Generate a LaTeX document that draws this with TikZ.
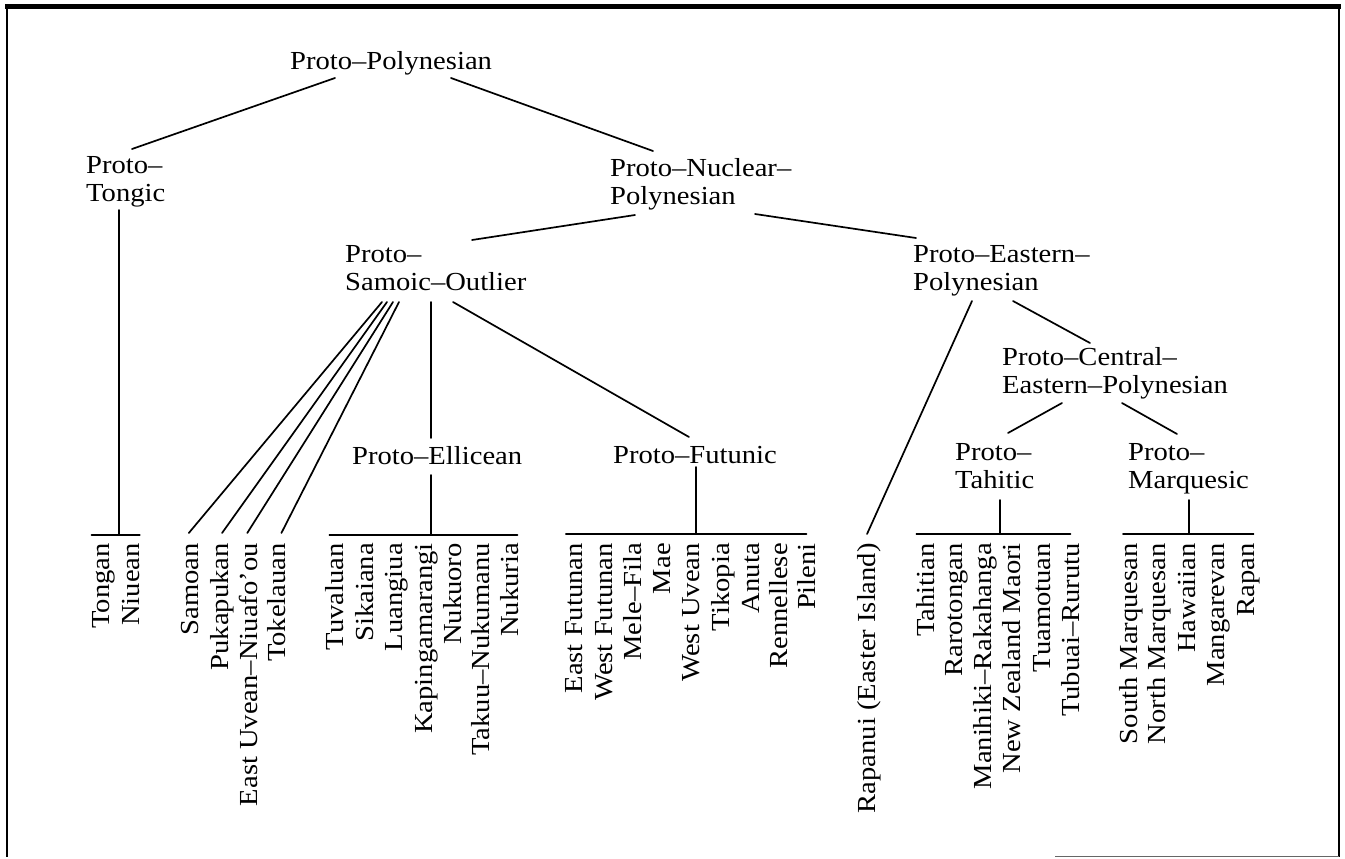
\documentclass[tikz,border=0pt]{standalone}
\usepackage{fontspec}
\setmainfont[FakeStretch=1.1]{Liberation Serif}
\usetikzlibrary{calc}
\begin{document}
\begin{tikzpicture}[x=1pt,y=-1pt,
  lab/.style={font=\fontsize{26}{28.5}\selectfont, inner sep=0pt, align=left, anchor=north west},
  leaf/.style={font=\fontsize{26}{28.5}\selectfont, inner sep=0pt, rotate=90, anchor=mid east},
  edge/.style={line width=1.7pt, line cap=round},
  frame/.style={line width=1.5pt}]
\useasboundingbox (0,0) rectangle (1345,859);
% frame
\draw[line width=5pt] (5,6.5) -- (1341,6.5);
\draw[frame] (7,6.5) -- (7,857);
\draw[frame] (1339,6.5) -- (1339,857);
\draw[line width=1pt, black!60] (1055,856) -- (1339,856);

% inner nodes
\node[lab] (pp) at (290,51) {Proto–Polynesian};
\node[lab] (tongic) at (86,156) {Proto–\\Tongic};
\node[lab] (nuclear) at (610,158) {Proto–Nuclear–\\Polynesian};
\node[lab] (samoic) at (345,245) {Proto–\\Samoic–Outlier};
\node[lab] (eastern) at (913,245) {Proto–Eastern–\\Polynesian};
\node[lab] (central) at (1002,347) {Proto–Central–\\Eastern–Polynesian};
\node[lab] (ellicean) at (352,446) {Proto–Ellicean};
\node[lab] (futunic) at (613,446) {Proto–Futunic};
\node[lab] (tahitic) at (955,443) {Proto–\\Tahitic};
\node[lab] (marq) at (1128,443) {Proto–\\Marquesic};

% leaves
\node[leaf] (tongan) at (107,543) {Tongan};
\node[leaf] (niuean) at (137,543) {Niuean};
\node[leaf] (samoan) at (196,543) {Samoan};
\node[leaf] (pukapukan) at (226,543) {Pukapukan};
\node[leaf] (euvean) at (255,543) {East Uvean–Niuafo’ou};
\node[leaf] (tokelauan) at (283,543) {Tokelauan};
\node[leaf] (tuvaluan) at (341,543) {Tuvaluan};
\node[leaf] (sikaiana) at (371,543) {Sikaiana};
\node[leaf] (luangiua) at (400,543) {Luangiua};
\node[leaf] (kaping) at (430,543) {Kapingamarangi};
\node[leaf] (nukuoro) at (459,543) {Nukuoro};
\node[leaf] (takuu) at (487,543) {Takuu–Nukumanu};
\node[leaf] (nukuria) at (516,543) {Nukuria};
\node[leaf] (efutunan) at (580,543) {East Futunan};
\node[leaf] (wfutunan) at (610,543) {West Futunan};
\node[leaf] (melefila) at (639,543) {Mele–Fila};
\node[leaf] (mae) at (668,543) {Mae};
\node[leaf] (wuvean) at (697,543) {West Uvean};
\node[leaf] (tikopia) at (727,543) {Tikopia};
\node[leaf] (anuta) at (757,543) {Anuta};
\node[leaf] (rennellese) at (785,543) {Rennellese};
\node[leaf] (pileni) at (813,543) {Pileni};
\node[leaf] (rapanui) at (873,543) {Rapanui (Easter Island)};
\node[leaf] (tahitian) at (932,543) {Tahitian};
\node[leaf] (rarotongan) at (960,543) {Rarotongan};
\node[leaf] (manihiki) at (989,543) {Manihiki–Rakahanga};
\node[leaf] (nzmaori) at (1018,543) {New Zealand Maori};
\node[leaf] (tuamotuan) at (1048,543) {Tuamotuan};
\node[leaf] (tubuai) at (1077,543) {Tubuai–Rurutu};
\node[leaf] (smarq) at (1135,543) {South Marquesan};
\node[leaf] (nmarq) at (1163,543) {North Marquesan};
\node[leaf] (hawaiian) at (1193,543) {Hawaiian};
\node[leaf] (mangarevan) at (1222,543) {Mangarevan};
\node[leaf] (rapan) at (1252,543) {Rapan};

% connectors
\draw[edge] ($(pp.north west)+(45,27)$) -- ($(tongic.north west)+(46,-7)$);
\draw[edge] ($(pp.north west)+(161,27)$) -- ($(nuclear.north west)+(43,-7)$);
\draw[edge] ($(nuclear.north west)+(25,57)$) -- ($(samoic.north west)+(127,-5)$);
\draw[edge] ($(nuclear.north west)+(145,56)$) -- ($(eastern.north west)+(3,-7)$);

% Tongic
\draw[edge] ($(tongic.north west)+(33,54)$) -- ($(tongic.north west)+(33,379)$);
\draw[edge] ($(tongan.east)+(-12,-8)$) -- ($(niuean.east)+(9,-8)$);

% Samoic fan
\draw[edge] ($(samoic.north west)+(37,57)$) -- ($(samoan.east)+(-1,-10)$);
\draw[edge] ($(samoic.north west)+(42,57)$) -- ($(pukapukan.east)+(0,-10)$);
\draw[edge] ($(samoic.north west)+(48,57)$) -- ($(euvean.east)+(-1,-10)$);
\draw[edge] ($(samoic.north west)+(54,57)$) -- ($(tokelauan.east)+(5,-10)$);
\draw[edge] ($(samoic.north west)+(86,57)$) -- ($(ellicean.north west)+(79,-8)$);
\draw[edge] ($(samoic.north west)+(108,57)$) -- ($(futunic.north west)+(76,-9)$);

% Ellicean
\draw[edge] ($(ellicean.north west)+(79,29)$) -- ($(ellicean.north west)+(79,89)$);
\draw[edge] ($(tuvaluan.east)+(-5,-8)$) -- ($(nukuria.east)+(8,-8)$);

% Futunic
\draw[edge] ($(futunic.north west)+(83,21)$) -- ($(futunic.north west)+(83,88)$);
\draw[edge] ($(efutunan.east)+(-8,-9)$) -- ($(pileni.east)+(0,-9)$);

% Eastern
\draw[edge] ($(eastern.north west)+(59,56)$) -- ($(rapanui.east)+(-2,-9)$);
\draw[edge] ($(eastern.north west)+(100,56)$) -- ($(central.north west)+(88,-4)$);
\draw[edge] ($(central.north west)+(60,56)$) -- ($(tahitic.north west)+(53,-10)$);
\draw[edge] ($(central.north west)+(120,56)$) -- ($(marq.north west)+(49,-9)$);

% Tahitic
\draw[edge] ($(tahitic.north west)+(45,57)$) -- ($(tahitic.north west)+(45,91)$);
\draw[edge] ($(tahitian.east)+(-9,-9)$) -- ($(tubuai.east)+(0,-9)$);

% Marquesic
\draw[edge] ($(marq.north west)+(61,57)$) -- ($(marq.north west)+(61,91)$);
\draw[edge] ($(smarq.east)+(-8,-9)$) -- ($(rapan.east)+(5,-9)$);
\end{tikzpicture}
\end{document}
